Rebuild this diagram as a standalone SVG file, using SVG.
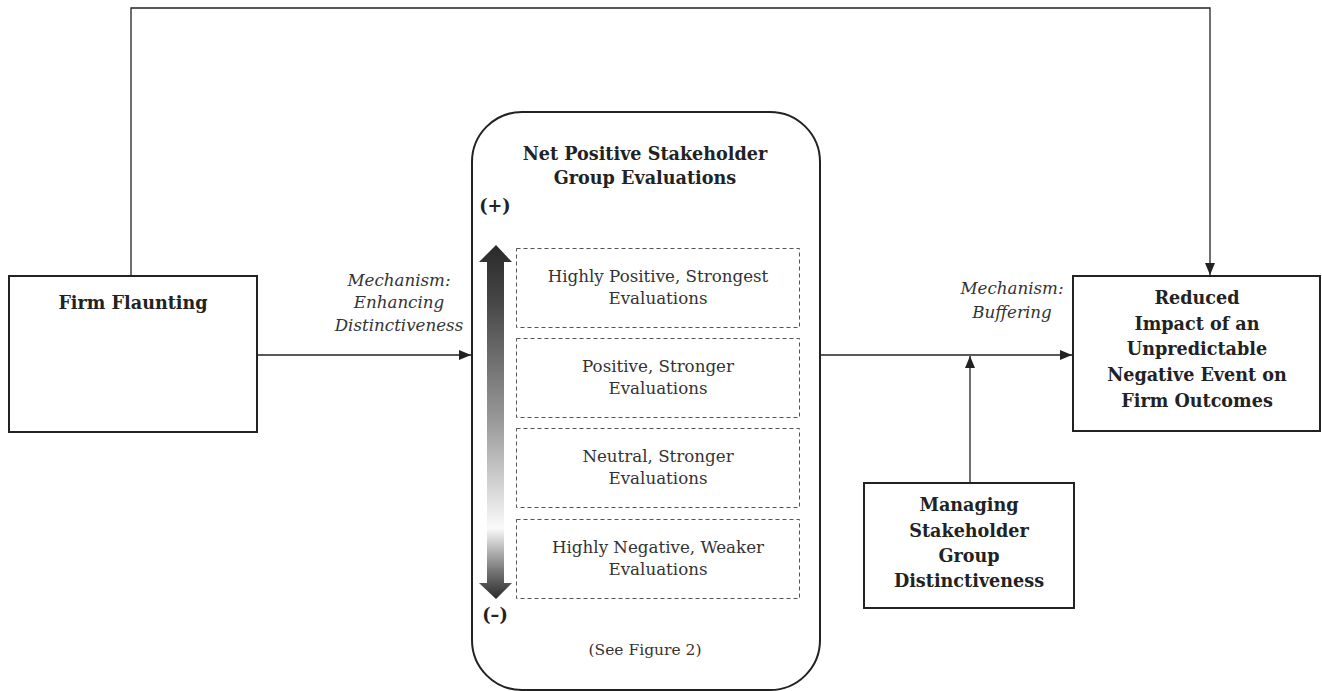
<svg xmlns="http://www.w3.org/2000/svg" width="1322" height="691" viewBox="0 0 1322 691">
<style>
.box{fill:#fff;stroke:#222;stroke-width:2}
.dash{fill:none;stroke:#555;stroke-width:1;stroke-dasharray:4 3}
.ln{fill:none;stroke:#222;stroke-width:1.3}
.b{font-family:"DejaVu Serif","Liberation Serif",serif;font-weight:bold;fill:#222;text-anchor:middle;font-size:17.6px}
.r{font-family:"DejaVu Serif","Liberation Serif",serif;fill:#333;text-anchor:middle;font-size:16.7px}
.i{font-family:"DejaVu Serif","Liberation Serif",serif;font-style:italic;fill:#333;text-anchor:middle;font-size:16.7px}
</style>
<defs>
<marker id="ah" viewBox="0 0 12 10" refX="12" refY="5" markerWidth="12" markerHeight="10" markerUnits="userSpaceOnUse" orient="auto">
<path d="M0,0 L12,5 L0,10 Z" fill="#222"/>
</marker>
<linearGradient id="grad" x1="0" y1="0" x2="0" y2="1">
<stop offset="0" stop-color="#2a2a2a"/>
<stop offset="0.15" stop-color="#444"/>
<stop offset="0.5" stop-color="#9a9a9a"/>
<stop offset="0.8" stop-color="#fafafa"/>
<stop offset="0.92" stop-color="#777"/>
<stop offset="1" stop-color="#2a2a2a"/>
</linearGradient>
</defs>
<g id="connectors">
<path class="ln" d="M131,276 V8 H1210 V275" marker-end="url(#ah)"/>
<path class="ln" d="M257,355 H471" marker-end="url(#ah)"/>
<path class="ln" d="M820,355 H1072" marker-end="url(#ah)"/>
<path class="ln" d="M970,483 V356" marker-end="url(#ah)"/>
</g>
<g id="firm">
<rect class="box" x="9" y="276" width="248" height="156"/>
<text class="b" x="133" y="309">Firm Flaunting</text>
</g>
<g id="mech1">
<text class="i" x="399" y="286">Mechanism:</text>
<text class="i" x="399" y="308">Enhancing</text>
<text class="i" x="399" y="331">Distinctiveness</text>
</g>
<g id="evaluations">
<rect class="box" x="472" y="112" width="348" height="578" rx="50" ry="50"/>
<text class="b" x="645" y="160">Net Positive Stakeholder</text>
<text class="b" x="645" y="184">Group Evaluations</text>
<text class="b" x="495" y="212">(+)</text>
<text class="b" x="495" y="621">(–)</text>
<path d="M496,245 L512,262 L504,262 L504,583 L512,583 L496,599 L479,583 L487,583 L487,262 L479,262 Z" fill="url(#grad)"/>
<rect class="dash" x="516.5" y="248.5" width="283" height="79"/>
<rect class="dash" x="516.5" y="338.5" width="283" height="79"/>
<rect class="dash" x="516.5" y="428.5" width="283" height="79"/>
<rect class="dash" x="516.5" y="519.5" width="283" height="79"/>
<text class="r" x="658" y="282">Highly Positive, Strongest</text>
<text class="r" x="658" y="304">Evaluations</text>
<text class="r" x="658" y="372">Positive, Stronger</text>
<text class="r" x="658" y="394">Evaluations</text>
<text class="r" x="658" y="462">Neutral, Stronger</text>
<text class="r" x="658" y="484">Evaluations</text>
<text class="r" x="658" y="553">Highly Negative, Weaker</text>
<text class="r" x="658" y="575">Evaluations</text>
<text class="r" x="645" y="655" style="font-size:15.5px">(See Figure 2)</text>
</g>
<g id="mech2">
<text class="i" x="1012" y="294">Mechanism:</text>
<text class="i" x="1012" y="318">Buffering</text>
</g>
<g id="reduced">
<rect class="box" x="1073" y="276" width="247" height="155"/>
<text class="b" x="1197" y="304">Reduced</text>
<text class="b" x="1197" y="330">Impact of an</text>
<text class="b" x="1197" y="355">Unpredictable</text>
<text class="b" x="1197" y="381">Negative Event on</text>
<text class="b" x="1197" y="407">Firm Outcomes</text>
</g>
<g id="managing">
<rect class="box" x="864" y="483" width="210" height="125"/>
<text class="b" x="969" y="511">Managing</text>
<text class="b" x="969" y="537">Stakeholder</text>
<text class="b" x="969" y="562">Group</text>
<text class="b" x="969" y="587">Distinctiveness</text>
</g>
</svg>
